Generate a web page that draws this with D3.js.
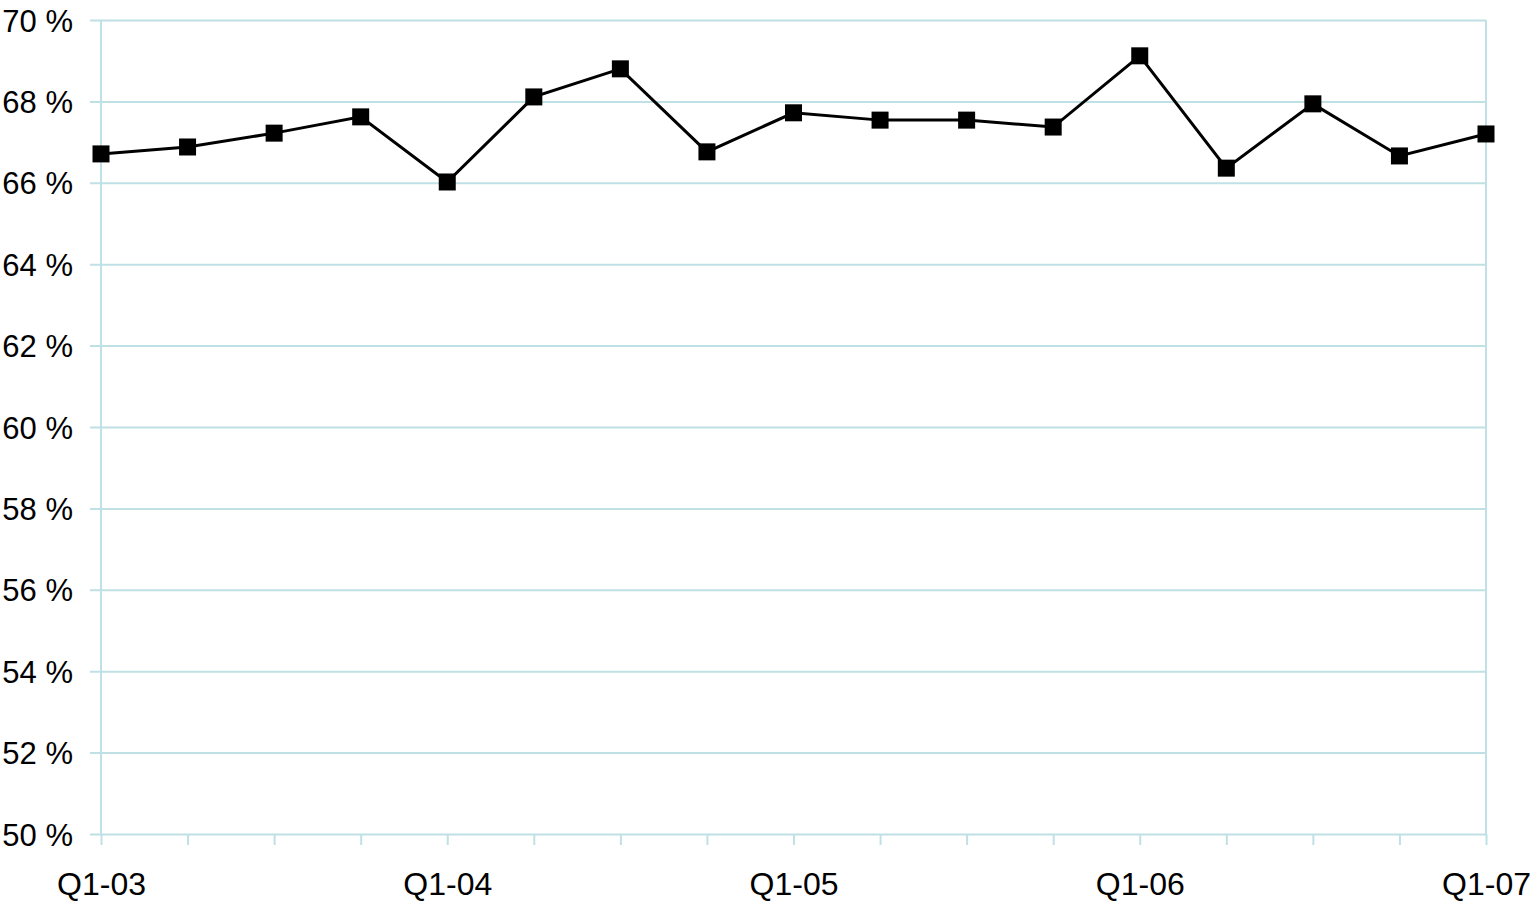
<!DOCTYPE html>
<html><head><meta charset="utf-8">
<script src="https://cdn.jsdelivr.net/npm/d3@7"></script>
<style>body{margin:0;background:#fff}svg text{font-family:"Liberation Sans Narrow","Liberation Sans",sans-serif;fill:#000}</style>
</head><body><svg id="c" width="1533" height="904"></svg>
<script>
const categories = ["Q1-03","Q2-03","Q3-03","Q4-03","Q1-04","Q2-04","Q3-04","Q4-04","Q1-05","Q2-05","Q3-05","Q4-05","Q1-06","Q2-06","Q3-06","Q4-06","Q1-07"];
const values = [66.71,66.88,67.22,67.62,66.02,68.11,68.80,66.76,67.72,67.54,67.54,67.37,69.12,66.36,67.94,66.66,67.20];
const yTicks = [50,52,54,56,58,60,62,64,66,68,70];
const xLabels = ["Q1-03","Q1-04","Q1-05","Q1-06","Q1-07"];

const svg = d3.select("#c");
const L=101, R=1486, T=20, B=834;
const grid="#bfe0e4";
const x = d3.scalePoint().domain(categories).range([L,R]);
const y = d3.scaleLinear().domain([50,70]).range([B,T]);

const ya = svg.append("g").attr("transform",`translate(${L},0)`)
  .call(d3.axisLeft(y).tickValues(yTicks).tickSize(-(R-L)).tickSizeOuter(0).tickFormat(d=>d+" %"));
ya.select(".domain").remove();
ya.selectAll(".tick line").attr("stroke",grid).attr("stroke-width",2).attr("x1",-11);
ya.selectAll(".tick text").attr("font-size",31).attr("dy","0.36em").attr("x",-28);

svg.append("line").attr("x1",L).attr("x2",L).attr("y1",T).attr("y2",B).attr("stroke",grid).attr("stroke-width",2);
svg.append("line").attr("x1",R).attr("x2",R).attr("y1",T).attr("y2",B).attr("stroke",grid).attr("stroke-width",2);

const xa = svg.append("g").attr("transform",`translate(0,${B})`)
  .call(d3.axisBottom(x).tickSize(11).tickSizeOuter(0).tickPadding(27).tickFormat(d=>xLabels.includes(d)?d:""));
xa.select(".domain").remove();
xa.selectAll(".tick line").attr("stroke",grid).attr("stroke-width",2);
xa.selectAll(".tick text").attr("font-size",32);

svg.append("path").datum(values)
  .attr("d", d3.line().x((d,i)=>x(categories[i])).y(d=>y(d)))
  .attr("fill","none").attr("stroke","#000").attr("stroke-width",3);

const s=17;
svg.selectAll("rect.m").data(values).enter().append("rect").attr("class","m")
  .attr("x",(d,i)=>x(categories[i])-s/2).attr("y",d=>y(d)-s/2)
  .attr("width",s).attr("height",s).attr("fill","#000");
</script></body></html>
